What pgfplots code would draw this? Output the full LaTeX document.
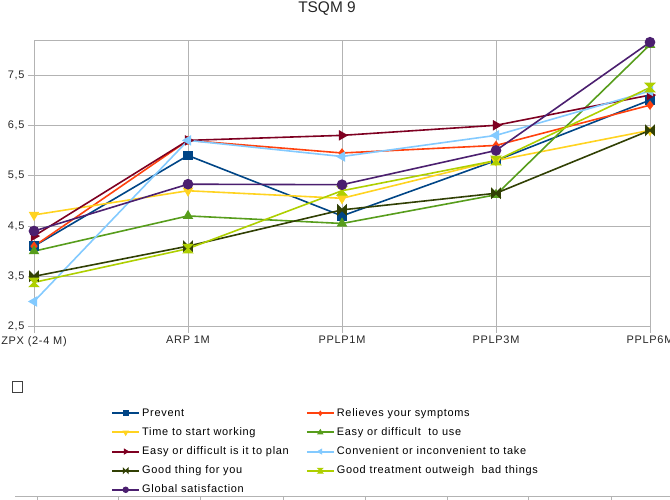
\documentclass[border=0pt]{standalone}
\usepackage{pgfplots}
\pgfplotsset{compat=1.18}
\usepackage{fontspec}
\setmainfont{Liberation Sans}
\definecolor{cPrev}{HTML}{004586}
\definecolor{cRel}{HTML}{FF420E}
\definecolor{cTime}{HTML}{FFD320}
\definecolor{cUse}{HTML}{579D1C}
\definecolor{cPlan}{HTML}{7E0021}
\definecolor{cConv}{HTML}{83CAFF}
\definecolor{cGood}{HTML}{314004}
\definecolor{cTreat}{HTML}{AECF00}
\definecolor{cGlob}{HTML}{4B1F6F}
\definecolor{gridc}{HTML}{B3B3B3}
\pgfdeclareplotmark{bowtieh}{%
  \pgfpathmoveto{\pgfpoint{-\pgfplotmarksize}{-\pgfplotmarksize}}%
  \pgfpathlineto{\pgfpoint{-\pgfplotmarksize}{\pgfplotmarksize}}%
  \pgfpathlineto{\pgfpoint{\pgfplotmarksize}{-\pgfplotmarksize}}%
  \pgfpathlineto{\pgfpoint{\pgfplotmarksize}{\pgfplotmarksize}}%
  \pgfpathclose\pgfusepathqfillstroke}
\pgfdeclareplotmark{bowtiev}{%
  \pgfpathmoveto{\pgfpoint{-\pgfplotmarksize}{\pgfplotmarksize}}%
  \pgfpathlineto{\pgfpoint{\pgfplotmarksize}{\pgfplotmarksize}}%
  \pgfpathlineto{\pgfpoint{-\pgfplotmarksize}{-\pgfplotmarksize}}%
  \pgfpathlineto{\pgfpoint{\pgfplotmarksize}{-\pgfplotmarksize}}%
  \pgfpathclose\pgfusepathqfillstroke}
\newcommand{\lfont}{\fontsize{11}{13}\selectfont\addfontfeature{LetterSpace=6.5}}
\begin{document}
\begin{tikzpicture}
\path[use as bounding box, clip] (0bp,0bp) rectangle (670bp,500bp);
\node[font=\fontsize{15.5}{17}\selectfont, text=black!85] at (327bp,491bp) {TSQM 9};
\begin{axis}[
  at={(34bp,173.3bp)}, anchor=south west,
  width=616bp, height=286bp, scale only axis,
  xmin=0, xmax=4, ymin=2.5, ymax=8.18,
  xtick={0,1,2,3,4},
  xticklabels={ZPX (2-4 M),ARP 1M,PPLP1M,PPLP3M,PPLP6M},
  ytick={2.5,3.5,4.5,5.5,6.5,7.5},
  yticklabel style={/pgf/number format/.cd, fixed, fixed zerofill, precision=1, use comma, assume math mode=true},
  ticklabel style={font=\lfont, text=black!85},
  grid=major, grid style={gridc, line width=0.8bp},
  axis line style={gridc, line width=0.8bp},
  tick style={gridc, line width=0.8bp},
  tick align=outside, major tick length=6bp,
  xtick pos=bottom, ytick pos=left,
  every axis plot/.append style={line width=1.6bp},
  legend columns=2,
  legend cell align=left,
  legend style={at={(axis description cs:0.125,-0.277)}, anchor=north west,
    draw=none, fill=none, inner sep=0pt, row sep=4.6bp,
    font=\lfont,
    /tikz/column 2/.style={column sep=15bp},
    nodes={inner sep=2bp, text depth=2.5bp, text height=8bp}},
  legend image post style={line width=2bp},
  legend image code/.code={\draw[mark repeat=2,mark phase=2,#1, line width=2bp, every mark/.append style={scale=0.6, line width=1bp}] plot coordinates {(0bp,0bp) (13.5bp,0bp) (27bp,0bp)};},
]
\addplot[cPrev, mark=square*, mark size=4bp] coordinates {(0,4.1) (1,5.9) (2,4.7) (3,5.8) (4,7.0)};
\addlegendentry{Prevent}
\addplot[cRel, mark=diamond*, mark size=3.5bp] coordinates {(0,4.1) (1,6.2) (2,5.95) (3,6.1) (4,6.9)};
\addlegendentry{Relieves your symptoms}
\addplot[cTime, mark=triangle*, mark size=4.5bp, mark options={rotate=180}] coordinates {(0,4.72) (1,5.2) (2,5.05) (3,5.8) (4,6.4)};
\addlegendentry{Time to start working}
\addplot[cUse, mark=triangle*, mark size=4.5bp] coordinates {(0,4.0) (1,4.7) (2,4.55) (3,5.12) (4,8.1)};
\addlegendentry{Easy or difficult\ \ to use}
\addplot[cPlan, mark=triangle*, mark size=4.5bp, mark options={rotate=-90}] coordinates {(0,4.3) (1,6.2) (2,6.3) (3,6.5) (4,7.1)};
\addlegendentry{Easy or difficult is it to plan}
\addplot[cConv, mark=triangle*, mark size=4.5bp, mark options={rotate=90}] coordinates {(0,3.0) (1,6.2) (2,5.88) (3,6.3) (4,7.18)};
\addlegendentry{Convenient or inconvenient to take}
\addplot[cGood, mark=bowtieh, mark size=4bp] coordinates {(0,3.5) (1,4.1) (2,4.82) (3,5.15) (4,6.4)};
\addlegendentry{Good thing for you}
\addplot[cTreat, mark=bowtiev, mark size=4bp] coordinates {(0,3.38) (1,4.05) (2,5.2) (3,5.8) (4,7.25)};
\addlegendentry{Good treatment outweigh\ \ bad things}
\addplot[cGlob, mark=*, mark size=4.5bp] coordinates {(0,4.4) (1,5.33) (2,5.32) (3,6.0) (4,8.15)};
\addlegendentry{Global satisfaction}
\end{axis}
\draw[black!75, line width=0.9bp] (12bp,108bp) rectangle (22bp,119bp);
\draw[gridc, line width=1bp] (15bp,3.3bp) -- (670bp,3.3bp);
\foreach \xx in {37,118,200,283,365,447,528,611} \draw[gridc, line width=0.8bp] (\xx bp,0bp) -- (\xx bp,3.3bp);
\end{tikzpicture}
\end{document}
